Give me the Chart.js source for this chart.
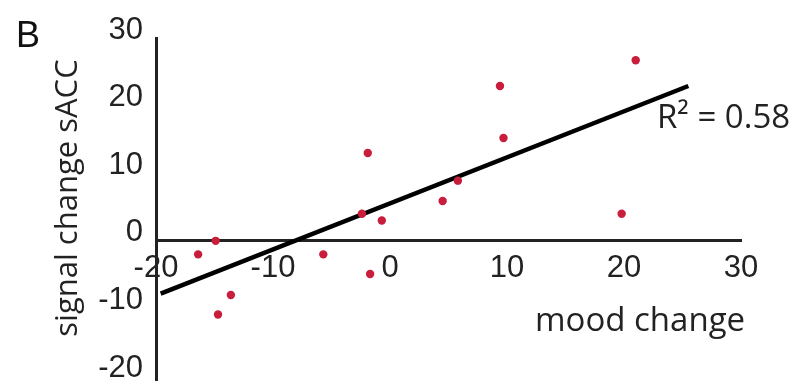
<!DOCTYPE html>
<html>
<head>
<meta charset="utf-8">
<script src="https://cdn.jsdelivr.net/npm/chart.js@4.4.1/dist/chart.umd.min.js"></script>
<style>
  html, body { margin: 0; padding: 0; background: #fff; }
  #wrap { position: relative; width: 800px; height: 385px; }
  #myChart { position: absolute; left: 0; top: 0; }
  .lbl { position: absolute; line-height: 1; white-space: nowrap; color: #222; font-family: "Open Sans", sans-serif; }
</style>
</head>
<body>
<div id="wrap">
  <canvas id="myChart" width="800" height="385"></canvas>
  <div class="lbl" id="panel" style="left:16px; top:17px; font-family:'Liberation Sans', Arial, sans-serif; font-size:36px; color:#111;">B</div>
  <div class="lbl" id="ytitle" style="left:65px; top:198px; font-size:31px; transform:translate(-50%,-50%) rotate(-90deg);">signal change sACC</div>
  <div class="lbl" id="xtitle" style="left:535px; top:302px; font-size:33px;">mood change</div>
  <div class="lbl" id="rsq" style="left:657px; top:99px; font-size:33px;">R² = 0.58</div>
</div>
<script>
// mood change (x) vs signal change sACC (y)
const moodX = [-16.4, -14.9, -14.7, -13.6, -5.7, -2.4, -1.9, -1.7, -0.7, 4.5, 5.8, 9.4, 9.7, 19.8, 21.0];
const sACCY = [-2.0, 0.0, -10.9, -8.0, -2.0, 4.0, 13.0, -4.9, 3.0, 5.9, 8.9, 22.9, 15.2, 4.0, 26.7];
// regression line end points
const fitX = [-19.6, 25.5];
const fitY = [-7.8, 22.9];
// tick labels
const xTicks = [-20, -10, 0, 10, 20, 30];
const yTicks = [-20, -10, 0, 10, 20, 30];

const points = moodX.map((x, i) => ({x: x, y: sACCY[i]}));
const fitLine = fitX.map((x, i) => ({x: x, y: fitY[i]}));

const tickFont = {family: "'Liberation Sans', Arial, sans-serif", size: 31};

// no scale should push the plot area in
function noPad(s) {
  s.paddingLeft = 0; s.paddingRight = 0; s.paddingTop = 0; s.paddingBottom = 0;
}

const config = {
  type: 'scatter',
  data: {
    datasets: [
      {
        label: 'fit',
        type: 'line',
        data: fitLine,
        borderColor: '#000',
        borderWidth: 4.5,
        pointRadius: 0,
        fill: false,
        order: 2
      },
      {
        label: 'subjects',
        data: points,
        backgroundColor: '#c81e3c',
        borderWidth: 0,
        pointRadius: 4.2,
        order: 1
      }
    ]
  },
  options: {
    responsive: false,
    animation: false,
    layout: { padding: { left: 0, top: 38, right: 59, bottom: 0 } },
    plugins: { legend: { display: false }, tooltip: { enabled: false } },
    scales: {
      x: {
        type: 'linear',
        position: { y: 0 },
        min: -20,
        max: 30,
        afterBuildTicks: s => { s.ticks = xTicks.map(v => ({value: v})); },
        afterFit: s => { s.height = 0; noPad(s); },
        grid: { display: false, drawTicks: false },
        border: { display: true, color: '#222', width: 3 },
        ticks: { color: '#222', font: tickFont, padding: 9, maxRotation: 0 }
      },
      y: {
        type: 'linear',
        position: 'left',
        min: -20.7,
        max: 30,
        afterBuildTicks: s => { s.ticks = yTicks.map(v => ({value: v})); },
        afterFit: s => { s.width = 156; noPad(s); },
        grid: { display: false, drawTicks: false },
        border: { display: true, color: '#222', width: 3 },
        ticks: { color: '#222', font: tickFont, padding: 13, labelOffset: -8 }
      }
    }
  }
};

new Chart(document.getElementById('myChart'), config);
</script>
</body>
</html>
